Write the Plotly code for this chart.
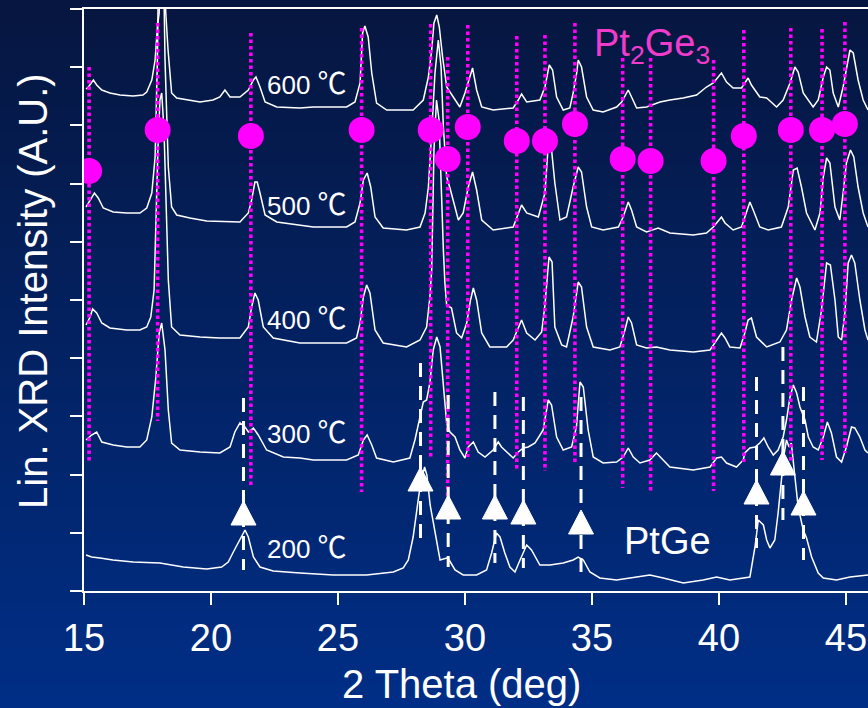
import plotly.graph_objects as go

# ---------------- data ----------------
x_ticks = [15, 20, 25, 30, 35, 40, 45]
temperature_values = ["600", "500", "400", "300", "200"]

tt_600 = [15.08, 15.17, 15.37, 15.50, 15.70, 16.02, 16.42, 16.93, 17.32, 17.47, 17.67, 17.80, 17.89, 17.96, 18.05,
          18.22, 18.31, 18.45, 18.65, 19.04, 19.57, 20.08, 20.35, 20.55, 20.75, 21.14, 21.47, 21.67, 21.77, 21.93,
          22.13, 22.59, 23.50, 24.03, 25.34, 25.67, 25.87, 25.97, 26.06, 26.19, 26.33, 26.52, 26.92, 27.96, 28.36,
          28.56, 28.69, 28.78, 28.89, 28.99, 29.12, 29.28, 29.41, 29.61, 29.80, 30.00, 30.20, 30.30, 30.46, 30.66,
          31.11, 31.90, 32.10, 32.23, 32.43, 32.95, 33.15, 33.32, 33.45, 33.61, 33.87, 34.13, 34.26, 34.40, 34.46,
          34.59, 34.79, 35.05, 35.44, 35.97, 36.17, 36.43, 36.56, 36.76, 37.15, 37.68, 38.07, 38.59, 39.12, 39.51,
          39.78, 40.10, 40.30, 40.56, 40.89, 41.15, 41.28, 41.61, 41.88, 42.27, 42.53, 42.80, 42.99, 43.12, 43.32,
          43.71, 43.91, 44.11, 44.24, 44.37, 44.50, 44.70, 44.89, 45.02, 45.16, 45.29, 45.48, 45.68, 45.87]
int_600 = [502, 504, 511, 506, 501, 498, 496, 495, 496, 499, 511, 531, 564, 578, 700,
           578, 541, 498, 493, 491, 489, 491, 494, 501, 494, 494, 501, 511, 514, 504,
           489, 484, 483, 484, 484, 489, 508, 558, 565, 554, 518, 488, 481, 481, 491,
           514, 541, 568, 576, 564, 534, 504, 499, 491, 484, 498, 516, 523, 501, 484,
           481, 483, 491, 497, 489, 491, 504, 526, 521, 494, 481, 483, 498, 518, 531,
           524, 494, 481, 479, 484, 489, 501, 494, 483, 484, 489, 491, 493, 496, 504,
           508, 518, 509, 503, 503, 513, 506, 494, 493, 484, 491, 508, 524, 519, 498,
           484, 491, 514, 524, 521, 498, 484, 504, 524, 541, 538, 511, 491, 481]

tt_500 = [15.08, 15.24, 15.41, 15.56, 15.76, 16.15, 16.68, 17.20, 17.47, 17.67, 17.80, 17.89, 17.95, 18.11, 18.19,
          18.32, 18.45, 18.65, 19.17, 19.83, 20.62, 21.14, 21.47, 21.60, 21.73, 21.82, 21.93, 22.13, 22.59, 23.50,
          24.03, 25.34, 25.67, 25.87, 26.00, 26.15, 26.29, 26.46, 26.78, 27.70, 28.23, 28.43, 28.56, 28.69, 28.82,
          28.95, 29.06, 29.15, 29.28, 29.41, 29.54, 29.74, 29.93, 30.13, 30.30, 30.46, 30.66, 31.11, 31.90, 32.10,
          32.23, 32.43, 32.89, 33.15, 33.28, 33.41, 33.54, 33.74, 34.00, 34.26, 34.46, 34.59, 34.79, 34.99, 35.44,
          36.04, 36.23, 36.43, 36.56, 36.76, 37.15, 37.61, 38.07, 38.99, 39.51, 39.78, 40.10, 40.24, 40.56, 40.89,
          41.09, 41.22, 41.35, 41.61, 41.94, 42.46, 42.73, 42.93, 43.08, 43.25, 43.45, 43.78, 43.98, 44.11, 44.24,
          44.37, 44.57, 44.76, 44.89, 45.02, 45.18, 45.31, 45.48, 45.68, 45.87]
int_500 = [384, 391, 398, 393, 383, 379, 378, 378, 383, 398, 434, 531, 660, 660, 531,
           424, 384, 376, 373, 370, 369, 369, 378, 391, 409, 409, 398, 376, 369, 366,
           364, 364, 369, 388, 411, 418, 404, 374, 363, 361, 364, 378, 404, 458, 518,
           551, 524, 464, 414, 403, 391, 371, 378, 404, 419, 401, 371, 361, 364, 378,
           386, 378, 374, 398, 446, 441, 408, 371, 374, 404, 424, 419, 384, 364, 361,
           364, 374, 389, 381, 364, 359, 363, 358, 356, 358, 364, 374, 368, 361, 364,
           378, 389, 381, 364, 361, 364, 384, 421, 423, 404, 378, 361, 378, 414, 433,
           428, 384, 371, 398, 428, 441, 434, 404, 378, 364]

tt_400 = [15.08, 15.24, 15.34, 15.50, 15.70, 16.02, 16.68, 17.20, 17.47, 17.63, 17.76, 17.83, 17.91, 17.99, 18.06,
          18.15, 18.23, 18.32, 18.45, 18.78, 19.57, 20.35, 21.14, 21.47, 21.60, 21.73, 21.86, 22.06, 22.45, 23.50,
          24.03, 25.34, 25.73, 25.87, 26.00, 26.13, 26.26, 26.46, 26.78, 27.70, 28.23, 28.49, 28.62, 28.69, 28.78,
          28.88, 28.98, 29.07, 29.15, 29.21, 29.28, 29.47, 29.67, 29.87, 30.07, 30.22, 30.33, 30.46, 30.66, 30.98,
          31.64, 31.90, 32.10, 32.23, 32.43, 32.76, 33.02, 33.15, 33.31, 33.43, 33.54, 33.81, 34.00, 34.26, 34.46,
          34.59, 34.79, 35.05, 35.71, 36.10, 36.30, 36.43, 36.56, 36.76, 37.15, 37.54, 38.07, 38.99, 39.65, 39.91,
          40.10, 40.24, 40.43, 40.83, 41.02, 41.15, 41.28, 41.48, 41.88, 42.40, 42.66, 42.86, 43.06, 43.19, 43.39,
          43.58, 43.84, 44.04, 44.24, 44.39, 44.57, 44.70, 44.83, 44.96, 45.09, 45.22, 45.35, 45.55, 45.75, 45.87]
int_400 = [266, 274, 282, 278, 268, 263, 261, 261, 264, 274, 301, 371, 441, 491, 498,
           461, 391, 311, 264, 256, 254, 253, 253, 264, 284, 298, 291, 264, 253, 248,
           248, 248, 253, 268, 294, 306, 298, 261, 248, 244, 251, 264, 294, 321, 441,
           491, 471, 391, 341, 308, 286, 283, 258, 253, 268, 291, 303, 291, 258, 244,
           244, 251, 264, 271, 258, 251, 259, 286, 334, 329, 264, 246, 244, 274, 309,
           304, 264, 244, 241, 244, 261, 274, 268, 246, 243, 244, 241, 239, 241, 251,
           258, 253, 244, 243, 258, 271, 273, 254, 244, 249, 261, 291, 313, 304, 274,
           254, 249, 281, 328, 326, 291, 254, 251, 278, 328, 336, 328, 291, 261, 251]

tt_300 = [15.08, 15.30, 15.50, 15.70, 16.15, 16.68, 17.20, 17.47, 17.67, 17.83, 17.96, 18.06, 18.19, 18.32, 18.45,
          18.78, 19.57, 20.35, 20.75, 20.94, 21.14, 21.34, 21.47, 21.67, 21.86, 22.19, 22.85, 23.50, 24.03, 25.34,
          25.80, 26.00, 26.15, 26.33, 26.52, 27.18, 27.83, 28.03, 28.23, 28.36, 28.49, 28.62, 28.75, 28.89, 29.02,
          29.15, 29.28, 29.41, 29.61, 29.80, 30.00, 30.13, 30.33, 30.52, 30.79, 31.11, 31.31, 31.44, 31.70, 31.90,
          32.10, 32.30, 32.49, 32.76, 33.08, 33.28, 33.41, 33.61, 33.87, 34.20, 34.39, 34.53, 34.66, 34.85, 35.05,
          35.44, 35.97, 36.23, 36.43, 36.63, 36.89, 37.28, 37.54, 37.74, 38.07, 38.99, 39.65, 39.91, 40.10, 40.30,
          40.69, 40.96, 41.02, 41.22, 41.42, 41.61, 41.77, 41.94, 42.14, 42.33, 42.53, 42.66, 42.80, 42.93, 43.06,
          43.19, 43.39, 43.52, 43.71, 43.91, 44.11, 44.27, 44.43, 44.63, 44.83, 45.02, 45.22, 45.35, 45.55, 45.75,
          45.87]
int_300 = [151, 156, 159, 149, 146, 144, 144, 151, 174, 214, 258, 268, 241, 181, 148,
           141, 139, 138, 144, 159, 168, 164, 159, 163, 156, 141, 134, 133, 131, 131,
           136, 151, 156, 146, 133, 129, 133, 151, 174, 189, 191, 208, 241, 254, 244,
           208, 168, 159, 154, 141, 133, 144, 149, 139, 134, 141, 149, 144, 138, 133,
           139, 143, 144, 148, 161, 191, 186, 154, 141, 144, 164, 209, 204, 161, 134,
           128, 129, 134, 143, 134, 128, 131, 138, 133, 124, 121, 124, 133, 134, 128,
           124, 131, 138, 143, 144, 148, 153, 144, 136, 141, 154, 171, 194, 206, 198,
           184, 171, 154, 144, 141, 154, 169, 158, 134, 129, 144, 164, 163, 154, 141,
           138]

tt_200 = [15.08, 15.30, 15.63, 16.14, 16.94, 17.99, 18.91, 19.83, 20.42, 20.68, 20.88, 21.07, 21.21, 21.34, 21.47,
          21.67, 21.93, 22.45, 23.50, 24.81, 26.13, 27.18, 27.57, 27.77, 27.96, 28.12, 28.23, 28.41, 28.50, 28.63,
          28.86, 29.02, 29.28, 29.38, 29.61, 29.93, 30.46, 30.85, 31.05, 31.24, 31.38, 31.57, 31.77, 31.97, 32.17,
          32.43, 32.62, 32.95, 33.35, 33.87, 34.26, 34.46, 34.66, 34.92, 35.31, 35.97, 36.76, 37.28, 37.81, 38.60,
          39.38, 39.91, 40.43, 40.96, 41.22, 41.42, 41.55, 41.75, 41.88, 42.01, 42.20, 42.33, 42.46, 42.56, 42.66,
          42.76, 42.85, 42.99, 43.12, 43.32, 43.45, 43.65, 43.91, 44.11, 44.63, 45.16, 45.68, 45.87]
int_200 = [36, 34, 33, 31, 29, 28, 24, 22, 24, 29, 39, 48, 56, 61, 54,
           34, 24, 20, 18, 16, 16, 19, 23, 31, 54, 84, 104, 124, 116, 86,
           55, 31, 33, 31, 21, 16, 16, 21, 38, 58, 54, 38, 24, 19, 31,
           46, 41, 26, 26, 28, 31, 34, 31, 19, 13, 11, 14, 16, 13, 8,
           11, 14, 11, 13, 14, 44, 71, 66, 51, 43, 51, 78, 111, 136, 151,
           144, 148, 111, 84, 61, 53, 34, 18, 13, 11, 14, 16, 16]

# Pt2Ge3 reference peaks (dotted magenta lines + circles)
pt2ge3_peaks = [15.20, 17.90, 21.57, 25.93, 28.65, 29.32, 30.11, 32.04, 33.15, 34.33, 36.21, 37.31, 39.79,
                40.98, 42.83, 44.06, 44.96]
pt2ge3_line_top = [524, 568, 558, 563, 567, 534, 566, 555, 556, 568, 533, 533, 531, 561, 563, 562, 569]
pt2ge3_line_bottom = [128, 170, 106, 99, 134, 94, 134, 120, 120, 126, 103, 100, 100, 129, 130, 131, 138]
pt2ge3_marker = [420, 461, 455, 461, 461, 432, 464, 450, 450, 467, 432, 430, 430, 455, 461, 461, 467]

# PtGe reference peaks (white dashed lines + triangles)
ptge_peaks = [21.28, 28.25, 29.34, 31.18, 32.30, 34.57, 41.48, 42.52, 43.33]
ptge_line_top = [193, 228, 196, 199, 194, 194, 214, 244, 204]
ptge_line_bottom = [21, 48, 24, 28, 23, 11, 43, 71, 31]
ptge_marker = [78, 112, 84, 84, 79, 69, 99, 128, 88]

# ---------------- figure ----------------
FONT = "Liberation Sans, Arial, Noto Sans CJK JP, sans-serif"
MAGENTA = "#ff00ff"

fig = go.Figure()

for xs, ys in [(tt_600, int_600), (tt_500, int_500), (tt_400, int_400), (tt_300, int_300), (tt_200, int_200)]:
    fig.add_trace(go.Scatter(x=xs, y=ys, mode="lines", line=dict(color="white", width=1.5),
                             hoverinfo="skip", showlegend=False))

# dotted magenta reference lines
lx, ly = [], []
for p, t, b in zip(pt2ge3_peaks, pt2ge3_line_top, pt2ge3_line_bottom):
    lx += [p, p, None]
    ly += [t, b, None]
fig.add_trace(go.Scatter(x=lx, y=ly, mode="lines", line=dict(color=MAGENTA, width=3.6, dash="3.5px,3px"),
                         hoverinfo="skip", showlegend=False))

# dashed white reference lines
dx, dy = [], []
for p, t, b in zip(ptge_peaks, ptge_line_top, ptge_line_bottom):
    dx += [p, p, None]
    dy += [t, b, None]
fig.add_trace(go.Scatter(x=dx, y=dy, mode="lines", line=dict(color="white", width=3, dash="14px,9px"),
                         hoverinfo="skip", showlegend=False))

# white triangles
half_w = 12.5 / 25.4   # half width of a triangle, in degrees
half_h = 12.0          # half height, in intensity units
tx, ty = [], []
for p, v in zip(ptge_peaks, ptge_marker):
    tx += [p - half_w, p + half_w, p, p - half_w, None]
    ty += [v - half_h, v - half_h, v + half_h, v - half_h, None]
fig.add_trace(go.Scatter(x=tx, y=ty, mode="lines", fill="toself", fillcolor="white",
                         line=dict(color="white", width=1), hoverinfo="skip", showlegend=False))

# magenta circles
fig.add_trace(go.Scatter(x=pt2ge3_peaks, y=pt2ge3_marker, mode="markers",
                         marker=dict(color=MAGENTA, size=26, line=dict(width=0)),
                         hoverinfo="skip", showlegend=False))

# background gradient (style only)
top_c = (6, 22, 64)
bot_c = (0, 46, 134)
N = 60
y_lo, y_hi = -117 / 582, 591 / 582
for i in range(N):
    f = i / (N - 1)
    c = tuple(round(bot_c[k] + (top_c[k] - bot_c[k]) * f) for k in range(3))
    y0 = y_lo + (y_hi - y_lo) * i / N
    y1 = y_lo + (y_hi - y_lo) * (i + 1) / N + 0.002
    fig.add_shape(type="rect", xref="paper", yref="paper", x0=-84 / 784, x1=1.01, y0=y0, y1=y1,
                  fillcolor="rgb(%d,%d,%d)" % c, line=dict(width=0), layer="below")

annotations = []
label_y = [510, 389, 275, 161, 46]
for txt, yv in zip(temperature_values, label_y):
    annotations.append(dict(x=22.14, y=yv, xref="x", yref="y",
                            text=txt + " <span style='font-family:Noto Sans CJK JP;font-size:29px'>℃</span>",
                            showarrow=False, xanchor="left", yanchor="middle",
                            font=dict(family=FONT, size=26, color="white")))
annotations.append(dict(x=35.0, y=545, xref="x", yref="y", text="Pt<sub>2</sub>Ge<sub>3</sub>",
                        showarrow=False, xanchor="left", yanchor="middle",
                        font=dict(family=FONT, size=38, color="#f03ccc")))
annotations.append(dict(x=36.2, y=50, xref="x", yref="y", text="PtGe", showarrow=False,
                        xanchor="left", yanchor="middle",
                        font=dict(family=FONT, size=38, color="white")))
annotations.append(dict(x=(461.7 - 84) / 784, y=(591 - 684) / 582, xref="paper", yref="paper",
                        text="2 Theta (deg)", showarrow=False, xanchor="center", yanchor="middle",
                        font=dict(family=FONT, size=40, color="white")))
annotations.append(dict(x=(33 - 84) / 784, y=(591 - 291) / 582, xref="paper", yref="paper",
                        text="Lin. XRD Intensity (A.U.)", showarrow=False, textangle=-90,
                        xanchor="center", yanchor="middle",
                        font=dict(family=FONT, size=40, color="white")))

fig.update_layout(
    width=868, height=708,
    margin=dict(l=84, r=0, t=9, b=117),
    paper_bgcolor="rgb(3,34,100)",
    plot_bgcolor="rgba(0,0,0,0)",
    showlegend=False,
    hovermode=False,
    annotations=annotations,
    xaxis=dict(range=[15, 45.87], showline=True, linecolor="white", linewidth=2, mirror=True,
               ticks="outside", ticklen=12, tickwidth=2, tickcolor="white",
               tickvals=x_ticks, ticktext=[str(v) for v in x_ticks],
               tickfont=dict(family=FONT, size=38, color="white"),
               showgrid=False, zeroline=False, automargin=False),
    yaxis=dict(range=[0, 582], showline=True, linecolor="white", linewidth=2,
               ticks="outside", ticklen=12, tickwidth=2, tickcolor="white",
               tickmode="linear", tick0=0, dtick=58.2, showticklabels=False,
               showgrid=False, zeroline=False, automargin=False),
)

fig.write_html("out.html", config={"displayModeBar": False},
               post_script="document.body.style.margin='0';document.body.style.background='rgb(0,46,134)';")
